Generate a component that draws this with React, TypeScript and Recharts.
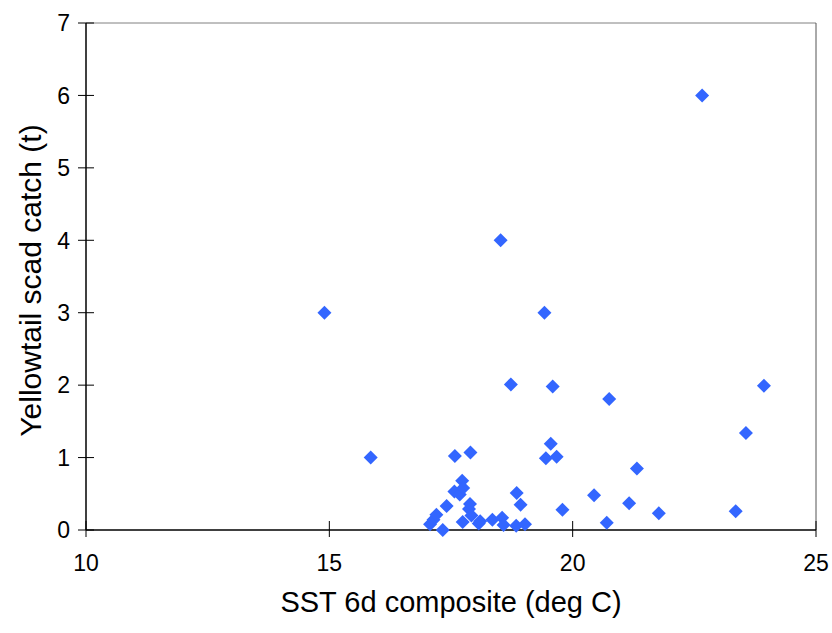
import {
  ScatterChart,
  Scatter,
  XAxis,
  YAxis,
  ReferenceLine,
  Label,
} from "recharts";

const sst = [
  14.9, 15.85, 17.07, 17.14, 17.2, 17.33, 17.41, 17.57, 17.58, 17.68, 17.73,
  17.74, 17.75, 17.87, 17.89, 17.9, 17.92, 18.07, 18.1, 18.35, 18.52, 18.55,
  18.58, 18.73, 18.84, 18.85, 18.93, 19.02, 19.42, 19.45, 19.55, 19.59, 19.67,
  19.79, 20.44, 20.7, 20.75, 21.16, 21.32, 21.77, 22.66, 23.35, 23.56, 23.93,
];
const catchT = [
  3.0, 1.0, 0.08, 0.14, 0.21, 0.0, 0.33, 0.53, 1.02, 0.49, 0.68, 0.11, 0.58,
  0.29, 0.36, 1.07, 0.2, 0.09, 0.12, 0.14, 4.0, 0.17, 0.07, 2.01, 0.06, 0.51,
  0.35, 0.08, 3.0, 0.99, 1.19, 1.98, 1.01, 0.28, 0.48, 0.1, 1.81, 0.37, 0.85,
  0.23, 6.0, 0.26, 1.34, 1.99,
];
const xTicks = [10, 15, 20, 25];
const yTicks = [0, 1, 2, 3, 4, 5, 6, 7];

const data = sst.map((x, i) => ({ x, y: catchT[i] }));

const FONT = "Arial, 'Liberation Sans', sans-serif";

const Diamond = (props: any) => {
  const { cx, cy } = props;
  const r = 7;
  return (
    <polygon
      points={`${cx},${cy - r} ${cx + r},${cy} ${cx},${cy + r} ${cx - r},${cy}`}
      fill="#3366ff"
    />
  );
};

// ticks cross the axis line, like the original spreadsheet chart
const YTick = (props: any) => {
  const { x, y, payload } = props;
  const ax = x + 14;
  return (
    <g>
      <line x1={ax - 8} x2={ax + 8} y1={y} y2={y} stroke="#000" />
      <text x={x - 2} y={y} dy="0.36em" textAnchor="end" fontSize={23} fill="#000" fontFamily={FONT}>
        {payload.value}
      </text>
    </g>
  );
};

const XTick = (props: any) => {
  const { x, y, payload } = props;
  const ay = y - 26;
  return (
    <g>
      <line x1={x} x2={x} y1={ay - 8} y2={ay + 8} stroke="#000" />
      <text x={x} y={y} dy="0.71em" textAnchor="middle" fontSize={23} fill="#000" fontFamily={FONT}>
        {payload.value}
      </text>
    </g>
  );
};

export default function App() {
  return (
    <div style={{ position: "absolute", left: 0, top: 0, background: "#fff" }}>
      <ScatterChart
        width={832}
        height={633}
        margin={{ top: 23, right: 16, left: 0, bottom: 0 }}
      >
        <XAxis
          type="number"
          dataKey="x"
          domain={[10, 25]}
          ticks={xTicks}
          height={103}
          tickSize={8}
          tickMargin={17}
          tickLine={false}
          tick={<XTick />}
          axisLine={{ stroke: "#000", strokeWidth: 1.5 }}
        >
          <Label
            content={(p: any) => {
              const vb = p.viewBox;
              return (
                <text
                  x={vb.x + vb.width / 2}
                  y={vb.y + 82}
                  textAnchor="middle"
                  fontSize={29}
                  fill="#000"
                  fontFamily={FONT}
                >
                  SST 6d composite (deg C)
                </text>
              );
            }}
          />
        </XAxis>
        <YAxis
          type="number"
          dataKey="y"
          domain={[0, 7]}
          ticks={yTicks}
          width={86}
          tickSize={8}
          tickMargin={6}
          tickLine={false}
          tick={<YTick />}
          axisLine={{ stroke: "#000", strokeWidth: 1.5 }}
        >
          <Label
            content={(p: any) => {
              const vb = p.viewBox;
              const cx = 30;
              const cy = vb.y + vb.height / 2 + 4;
              return (
                <text
                  x={cx}
                  y={cy}
                  dy="0.36em"
                  textAnchor="middle"
                  fontSize={30}
                  fill="#000"
                  fontFamily={FONT}
                  transform={`rotate(-90, ${cx}, ${cy})`}
                >
                  Yellowtail scad catch (t)
                </text>
              );
            }}
          />
        </YAxis>
        <ReferenceLine y={7} stroke="#808080" />
        <ReferenceLine x={25} stroke="#555" />
        <Scatter data={data} shape={<Diamond />} isAnimationActive={false} />
      </ScatterChart>
    </div>
  );
}
